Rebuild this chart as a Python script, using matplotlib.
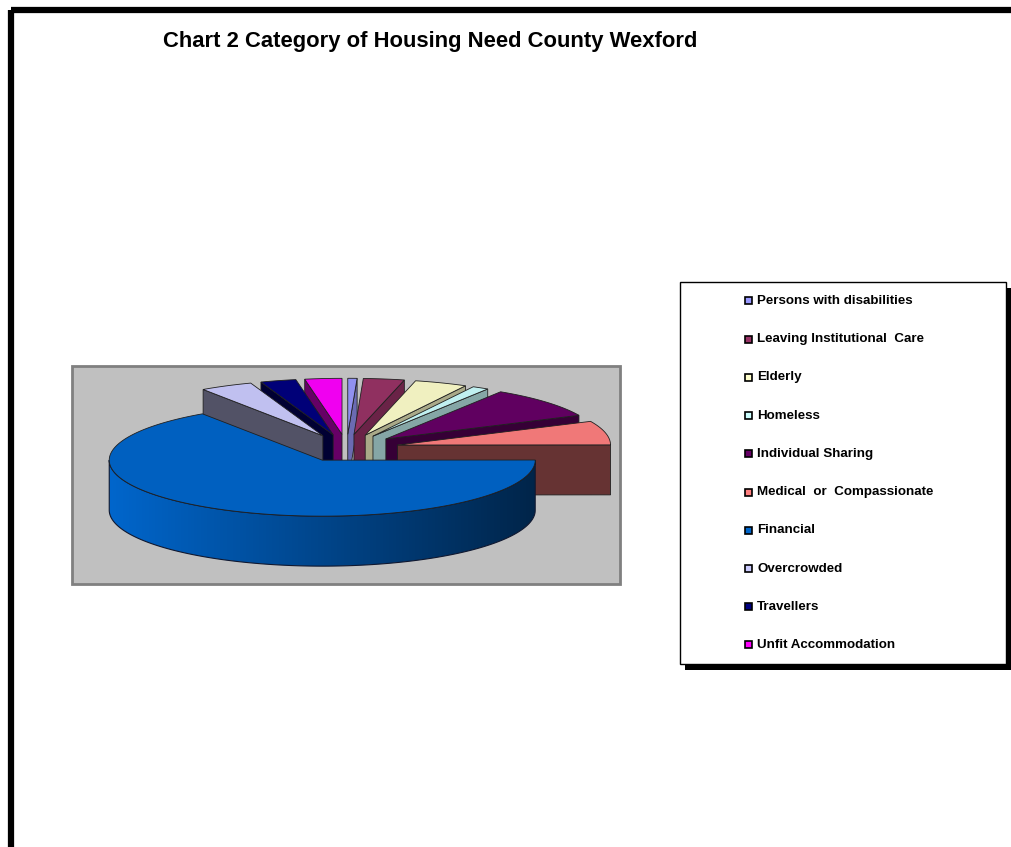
import numpy as np
import matplotlib
matplotlib.use("Agg")
import matplotlib.pyplot as plt
from matplotlib.patches import Polygon, Rectangle
from matplotlib.colors import to_rgb

# data (share of housing need, %)
categories = ['Persons with disabilities', 'Leaving Institutional  Care', 'Elderly',
              'Homeless', 'Individual Sharing', 'Medical  or  Compassionate',
              'Financial', 'Overcrowded', 'Travellers', 'Unfit Accommodation']
values = [0.7, 3.1, 4.0, 1.25, 9.0, 6.9, 65.5, 4.0, 2.7, 2.8]
colours = ['#9999FF', '#993366', '#FFFFCC', '#CCFFFF', '#660066',
           '#FF8080', '#0066CC', '#CCCCFF', '#000080', '#FF00FF']
title = 'Chart 2 Category of Housing Need County Wexford'

W, H = 1011, 847
fig = plt.figure(figsize=(W / 100, H / 100), dpi=100)
ax = fig.add_axes([0, 0, 1, 1])
ax.axis('off')

# outer chart frame (right/bottom run off the picture)
ax.add_patch(Rectangle((11, 10.5), W + 20, H + 20, fill=False, ec='black', lw=4.5))

ax.text(163, 42, title, fontsize=15.8, fontweight='bold', va='center', ha='left',
        family=['Liberation Sans Narrow', 'Liberation Sans', 'DejaVu Sans'])

# plot area
ax.add_patch(Rectangle((72, 366), 548, 218, fc='#C0C0C0', ec='#808080', lw=2, zorder=1))

# 3d pie geometry
cx, cy = 346.6, 448.0
rx, ry = 213.0, 56.0
depth = 50.0
explode = 0.245


def shade(c, f):
    r, g, b = to_rgb(c)
    return (r * f, g * f, b * f)


def pt(th, r, ox, oy, dz=0.0):
    t = np.radians(th)
    return (cx + ox + r * rx * np.sin(t), cy + oy - r * ry * np.cos(t) + dz)


total = sum(values)
angles = np.cumsum([0] + [v / total * 360 for v in values])
slices = []
for i in range(len(values)):
    a, b = angles[i], angles[i + 1]
    m = (a + b) / 2
    ox = explode * rx * np.sin(np.radians(m))
    oy = -explode * ry * np.cos(np.radians(m))
    slices.append((np.cos(np.radians(m)), i, a, b, ox, oy))

z = 2.0
# far slices first
slices.sort(key=lambda s: -s[0])
for _, i, a, b, ox, oy in slices:
    col = colours[i]
    apex = (cx + ox, cy + oy)
    apex_b = (cx + ox, cy + oy + depth)
    # radial walls facing the viewer
    for th, nrm in ((b, b + 90), (a, a - 90)):
        if np.cos(np.radians(nrm)) < 0:
            f = 0.4 + 0.3 * max(0.0, np.sin(np.radians(nrm)))
            quad = [apex, pt(th, 1, ox, oy), pt(th, 1, ox, oy, depth), apex_b]
            ax.add_patch(Polygon(quad, closed=True, fc=shade(col, f), ec='#202020', lw=0.6, zorder=z))
            z += 0.01
    # outer rim, front half only, shaded light (left) to dark (right)
    lo, hi = max(a, 90), min(b, 270)
    if hi > lo:
        ts = np.linspace(lo, hi, int(hi - lo) * 2 + 2)
        arc_t = [pt(t, 1, ox, oy) for t in ts]
        arc_b = [pt(t, 1, ox, oy, depth) for t in ts]
        rim = Polygon(arc_t + arc_b[::-1], closed=True, fc='none', ec='#101830', lw=0.8, zorder=z + 0.005)
        ax.add_patch(rim)
        xs = np.linspace(-1, 1, 400)
        f = 0.36 + 0.32 * (1 - xs)
        grad = np.array([[shade(col, min(v, 1.0)) for v in f]])
        x0, x1 = cx + ox - rx, cx + ox + rx
        y0, y1 = cy + oy - 5, cy + oy + ry + depth + 5
        im = ax.imshow(grad, extent=(x0, x1, y1, y0), aspect='auto',
                       interpolation='bilinear', zorder=z)
        im.set_clip_path(rim)
        z += 0.01
    # top face
    ts = np.linspace(a, b, max(int(b - a) * 2, 2))
    top = [apex] + [pt(t, 1, ox, oy) for t in ts]
    ax.add_patch(Polygon(top, closed=True, fc=shade(col, 0.94), ec='#202020', lw=0.6, zorder=z))
    z += 0.01

# legend box with shadow
lx, ly, lw_, lh = 680, 282, 326, 382
ax.add_patch(Rectangle((lx + 5, ly + 6), lw_, lh, fc='black', ec='black', lw=0, zorder=5))
ax.add_patch(Rectangle((lx, ly), lw_, lh, fc='white', ec='black', lw=1, zorder=5.1))
row_y = np.linspace(301, 645, len(categories))
for yy, name, col in zip(row_y, categories, colours):
    ax.add_patch(Rectangle((745, yy - 3.5), 7, 7, fc=col, ec='black', lw=1.2, zorder=5.2))
    ax.text(757, yy, name, fontsize=9.6, fontweight='bold', va='center', ha='left',
            family=['Liberation Sans', 'DejaVu Sans'], zorder=5.3)

ax.set_xlim(0, W)
ax.set_ylim(H, 0)
fig.savefig('out.png', dpi=100)
